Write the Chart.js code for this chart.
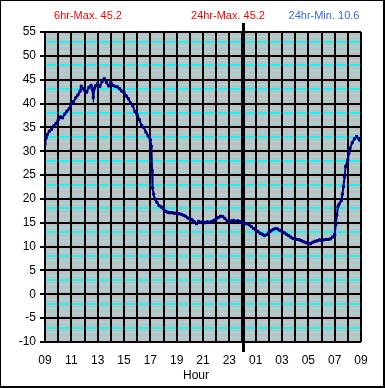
<!DOCTYPE html>
<html>
<head>
<meta charset="utf-8">
<script src="https://cdn.jsdelivr.net/npm/chart.js@4.4.1/dist/chart.umd.min.js"></script>
<style>
  html, body { margin: 0; padding: 0; background: #fff; }
  #wrap { position: relative; width: 385px; height: 388px; overflow: hidden; font-family: "Liberation Sans", Arial, sans-serif; }
  #c { position: absolute; left: 0; top: 0; }
  .lbl { position: absolute; white-space: nowrap; transform: translate(-50%, -50%); font-size: 11px; }
  #frame { position: absolute; left: 0; top: 0; width: 385px; height: 388px; box-sizing: border-box;
           border-left: 1px solid #000; border-top: 1px solid #000; border-right: 2px solid #000; border-bottom: 2px solid #000; pointer-events: none; }
</style>
</head>
<body>
<div id="wrap">
  <canvas id="c" width="385" height="388"></canvas>
  <div class="lbl" id="t1" style="left:88px; top:15px; color:#ff0000;"></div>
  <div class="lbl" id="t2" style="left:228px; top:15px; color:#ff0000;"></div>
  <div class="lbl" id="t3" style="left:324px; top:15px; color:#3366ff;"></div>
  <div class="lbl" id="xt" style="left:196px; top:375px; color:#000; font-size:12px;"></div>
  <div id="frame"></div>
</div>
<script>
// ---- data ----
const times = [
  '09:00','09:05','09:10','09:20','09:30','09:40','09:50',
  '10:00','10:10','10:20','10:30','10:40','10:50',
  '11:00','11:10','11:20','11:30','11:40','11:45','11:50',
  '12:00','12:10','12:20','12:30','12:35','12:40','12:45','12:50',
  '13:00','13:10','13:20','13:30','13:40','13:50',
  '14:00','14:10','14:20','14:30','14:40','14:50',
  '15:00','15:10','15:20','15:30','15:40','15:50',
  '16:00','16:10','16:20','16:30','16:40','16:50',
  '17:00','17:05','17:08','17:10','17:15','17:20','17:30','17:40','17:50',
  '18:00','18:10','18:20','18:30','18:40','18:50',
  '19:00','19:10','19:20','19:30','19:40','19:50',
  '20:00','20:10','20:20','20:30','20:40','20:50',
  '21:00','21:10','21:20','21:30','21:40','21:50',
  '22:00','22:10','22:20','22:30','22:40','22:50',
  '23:00','23:10','23:20','23:30','23:40','23:50',
  '00:00','00:10','00:20','00:30','00:40','00:50',
  '01:00','01:10','01:20','01:30','01:40','01:50',
  '02:00','02:10','02:20','02:30','02:40','02:50',
  '03:00','03:10','03:20','03:30','03:40','03:50',
  '04:00','04:10','04:20','04:30','04:40','04:50',
  '05:00','05:10','05:20','05:30','05:40','05:50',
  '06:00','06:10','06:20','06:30','06:40','06:50',
  '07:00','07:05','07:10','07:15','07:20','07:30','07:35','07:40','07:45','07:50',
  '08:00','08:05','08:10','08:20','08:30','08:40','08:50','08:55'
];
const temps = [
  31.5,32.8,33.5,34.2,34.6,35.3,35.8,
  36.6,37.2,37.0,37.8,38.4,38.9,
  40.0,40.4,41.2,41.8,42.6,43.6,43.2,
  42.8,42.4,43.4,43.8,43.0,41.3,43.2,43.7,
  44.2,43.6,44.6,45.2,44.4,43.7,
  44.4,43.8,43.6,43.5,43.1,42.6,
  42.3,41.6,41.0,40.1,39.5,38.3,
  37.6,36.6,35.4,35.0,34.0,33.2,
  32.4,31.0,26.0,22.3,21.0,20.0,19.3,18.6,18.3,
  17.9,17.4,17.2,17.1,17.1,17.0,
  17.0,16.9,16.8,16.6,16.4,16.0,
  15.9,15.6,15.2,14.8,15.3,15.1,
  15.2,15.0,15.2,15.1,15.3,15.5,
  15.8,16.1,16.4,16.3,15.9,15.4,
  15.2,15.4,15.5,15.3,15.4,15.2,
  15.0,14.9,14.8,14.6,14.2,13.8,
  13.5,13.2,12.8,12.6,12.3,12.5,
  12.9,13.3,13.6,13.8,13.7,13.4,
  13.2,12.9,12.6,12.3,12.0,11.7,
  11.6,11.5,11.4,11.2,11.0,10.8,
  10.7,10.6,10.9,11.1,11.2,11.4,
  11.3,11.4,11.5,11.5,11.6,12.0,
  12.5,14.6,16.6,18.4,18.9,19.6,21.0,22.6,24.6,26.8,
  28.2,29.6,30.6,31.8,32.6,33.1,32.6,32.3
];
const startHour = 9;
const xLabels = ['09','11','13','15','17','19','21','23','01','03','05','07','09'];
const yMin = -10, yMax = 55;
const headerTexts = ['6hr-Max. 45.2', '24hr-Max. 45.2', '24hr-Min. 10.6'];
const xTitle = 'Hour';
const midnightOffset = 15;

document.getElementById('t1').textContent = headerTexts[0];
document.getElementById('t2').textContent = headerTexts[1];
document.getElementById('t3').textContent = headerTexts[2];
document.getElementById('xt').textContent = xTitle;

function toOffset(t) {
  const [h, m] = t.split(':').map(Number);
  return ((h - startHour + 24) % 24) + m / 60;
}
const points = times.map((t, i) => ({ x: toOffset(t), y: temps[i] }));

const plotBg = {
  id: 'plotBg',
  beforeDraw(chart) {
    const { ctx, chartArea: a } = chart;
    ctx.save();
    ctx.fillStyle = '#c0c0c0';
    ctx.fillRect(a.left, a.top, a.right - a.left, a.bottom - a.top);
    ctx.restore();
  }
};
const midnight = {
  id: 'midnight',
  beforeDatasetsDraw(chart) {
    const { ctx, chartArea: a, scales } = chart;
    const x = Math.round(scales.x.getPixelForValue(midnightOffset)) + 0.5;
    ctx.save();
    ctx.strokeStyle = '#000';
    ctx.lineWidth = 3;
    ctx.beginPath();
    ctx.moveTo(x, a.top - 9);
    ctx.lineTo(x, a.bottom + 10);
    ctx.stroke();
    ctx.restore();
  }
};

const font12 = { family: '"Liberation Sans", Arial, sans-serif', size: 12 };

new Chart(document.getElementById('c'), {
  type: 'line',
  data: {
    datasets: [{
      data: points,
      borderColor: '#000080',
      backgroundColor: '#000080',
      borderWidth: 2,
      pointStyle: 'rect',
      pointRadius: 1.5,
      pointBorderWidth: 1,
      pointBackgroundColor: '#000080',
      pointBorderColor: '#000080',
      tension: 0,
      fill: false
    }]
  },
  options: {
    responsive: false,
    devicePixelRatio: 1,
    animation: false,
    events: [],
    layout: { padding: { top: 32, right: 24, left: 0, bottom: 0 } },
    plugins: { legend: { display: false }, tooltip: { enabled: false }, title: { display: false } },
    scales: {
      y: {
        type: 'linear', min: yMin, max: yMax,
        border: { display: false },
        afterFit(s) { s.width = 45; },
        ticks: {
          stepSize: 1, autoSkip: false, color: '#000', font: font12, padding: 4,
          callback: v => (v % 5 === 0 ? String(v) : '')
        },
        grid: {
          drawTicks: true, tickLength: 5,
          color: c => {
            const v = c.tick.value;
            if (v % 5 === 0) return '#000000';
            return (((v % 5) + 5) % 5 === 3) ? '#00ffff' : '#8ae6e6';
          },
          lineWidth: c => {
            const v = c.tick.value;
            if (v % 5 === 0) return 2;
            return (((v % 5) + 5) % 5 === 3) ? 2 : 1;
          },
          tickColor: c => (c.tick.value % 5 === 0 ? '#000000' : 'rgba(0,0,0,0)'),
          tickWidth: 2
        }
      },
      x: {
        type: 'linear', min: 0, max: 24,
        border: { display: false },
        afterFit(s) { s.height = 46; },
        ticks: {
          stepSize: 1, autoSkip: false, maxRotation: 0, color: '#000', font: font12, padding: 1,
          callback: v => (v % 2 === 0 ? xLabels[v / 2] : '')
        },
        grid: {
          drawTicks: true, tickLength: 10,
          color: '#000000',
          lineWidth: c => (c.tick.value === midnightOffset ? 3 : 2),
          tickColor: 'rgba(0,0,0,0)'
        }
      }
    }
  },
  plugins: [plotBg, midnight]
});
</script>
</body>
</html>
